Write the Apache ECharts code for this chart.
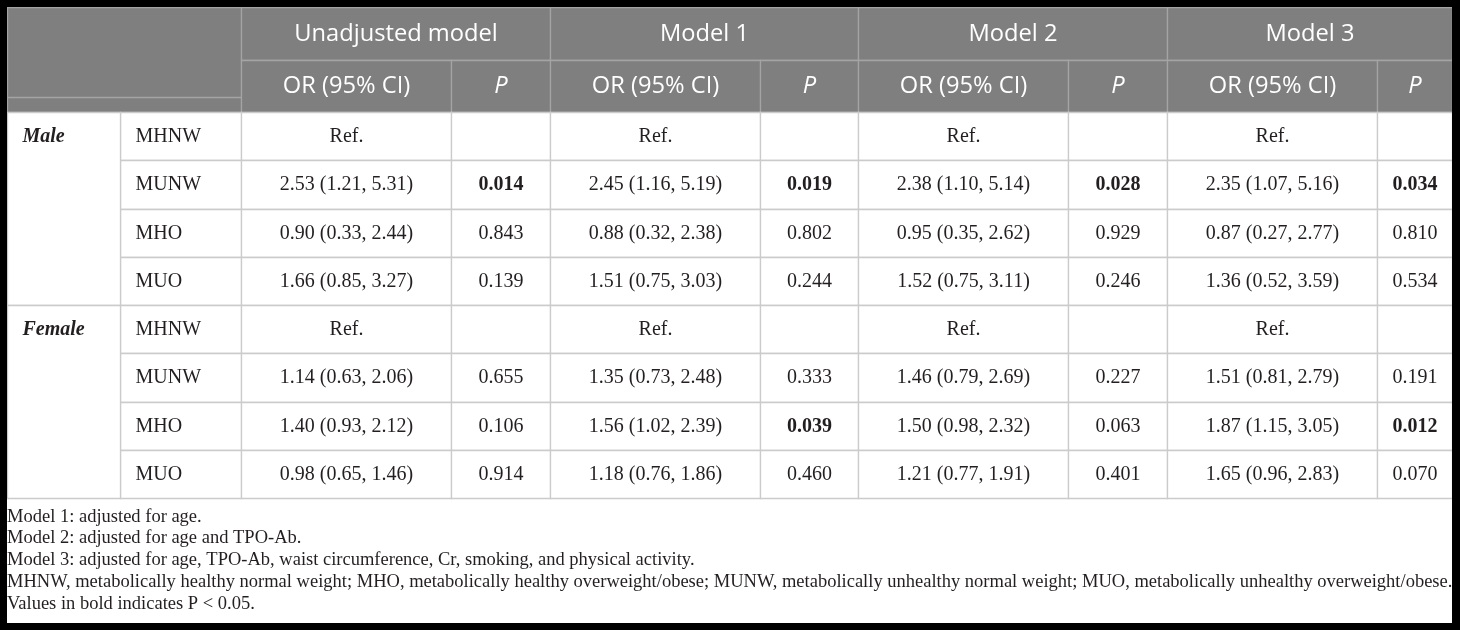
<!DOCTYPE html>
<html><head><meta charset="utf-8">
<script src="https://cdn.jsdelivr.net/npm/echarts@6/dist/echarts.min.js"></script>
<style>
html,body{margin:0;padding:0;background:#000;width:1460px;height:630px;overflow:hidden;}
#frame{position:absolute;left:7px;top:7px;width:1445px;height:616px;background:#fff;}
#chart{width:1445px;height:616px;}
</style></head><body>
<div id="frame"><div id="chart"></div></div>
<script>
// ---------------- data ----------------
const models = ['Unadjusted model', 'Model 1', 'Model 2', 'Model 3'];
const statHeaders = ['OR (95% CI)', 'P'];
const groups = ['Male', 'Female'];
const subgroups = ['MHNW', 'MUNW', 'MHO', 'MUO'];
const refLabel = 'Ref.';
const sigLevel = 0.05;
// rows: MUNW, MHO, MUO ; columns: Unadjusted, Model 1, Model 2, Model 3
const maleOR    = [[2.53, 2.45, 2.38, 2.35], [0.90, 0.88, 0.95, 0.87], [1.66, 1.51, 1.52, 1.36]];
const maleLower = [[1.21, 1.16, 1.10, 1.07], [0.33, 0.32, 0.35, 0.27], [0.85, 0.75, 0.75, 0.52]];
const maleUpper = [[5.31, 5.19, 5.14, 5.16], [2.44, 2.38, 2.62, 2.77], [3.27, 3.03, 3.11, 3.59]];
const maleP     = [[0.014, 0.019, 0.028, 0.034], [0.843, 0.802, 0.929, 0.810], [0.139, 0.244, 0.246, 0.534]];
const femaleOR    = [[1.14, 1.35, 1.46, 1.51], [1.40, 1.56, 1.50, 1.87], [0.98, 1.18, 1.21, 1.65]];
const femaleLower = [[0.63, 0.73, 0.79, 0.81], [0.93, 1.02, 0.98, 1.15], [0.65, 0.76, 0.77, 0.96]];
const femaleUpper = [[2.06, 2.48, 2.69, 2.79], [2.12, 2.39, 2.32, 3.05], [1.46, 1.86, 1.91, 2.83]];
const femaleP     = [[0.655, 0.333, 0.227, 0.191], [0.106, 0.039, 0.063, 0.012], [0.914, 0.460, 0.401, 0.070]];
const footnotes = [
  'Model 1: adjusted for age.',
  'Model 2: adjusted for age and TPO-Ab.',
  'Model 3: adjusted for age, TPO-Ab, waist circumference, Cr, smoking, and physical activity.',
  'MHNW, metabolically healthy normal weight; MHO, metabolically healthy overweight/obese; MUNW, metabolically unhealthy normal weight; MUO, metabolically unhealthy overweight/obese.',
  'Values in bold indicates P < 0.05.'
];

// ---------------- layout (table geometry in axis units) ----------------
const colWidths = [113, 121, 210, 99, 210, 98, 210, 99, 210, 75];
const rowHeights = [53, 52, 48.25, 48.25, 48.25, 48.25, 48.25, 48.25, 48.25, 48.25];
const colEdges = [0]; colWidths.forEach(w => colEdges.push(colEdges[colEdges.length - 1] + w));
const rowEdges = [0]; rowHeights.forEach(h => rowEdges.push(rowEdges[rowEdges.length - 1] + h));
const totalW = colEdges[colEdges.length - 1];
const totalH = rowEdges[rowEdges.length - 1];

// ---------------- build cells ----------------
const groupOR = [maleOR, femaleOR], groupLo = [maleLower, femaleLower], groupHi = [maleUpper, femaleUpper], groupP = [maleP, femaleP];
const cells = [];
cells.push({c: 0, r: 0, cs: 2, rs: 2, text: '', type: 'corner'});
models.forEach((m, i) => cells.push({c: 2 + 2 * i, r: 0, cs: 2, rs: 1, text: m, type: 'hdr'}));
models.forEach((m, i) => statHeaders.forEach((s, j) =>
  cells.push({c: 2 + 2 * i + j, r: 1, cs: 1, rs: 1, text: s, type: 'hdr', italic: j === 1})));
groups.forEach((g, gi) => {
  const r0 = 2 + gi * subgroups.length;
  subgroups.forEach((s, si) => {
    const r = r0 + si;
    cells.push({c: 1, r: r, cs: 1, rs: 1, text: s, type: 'sub'});
    models.forEach((m, mi) => {
      if (si === 0) {
        cells.push({c: 2 + 2 * mi, r: r, cs: 1, rs: 1, text: refLabel, type: 'val'});
        cells.push({c: 3 + 2 * mi, r: r, cs: 1, rs: 1, text: '', type: 'val'});
      } else {
        const o = groupOR[gi][si - 1][mi], lo = groupLo[gi][si - 1][mi], hi = groupHi[gi][si - 1][mi], p = groupP[gi][si - 1][mi];
        cells.push({c: 2 + 2 * mi, r: r, cs: 1, rs: 1, text: o.toFixed(2) + ' (' + lo.toFixed(2) + ', ' + hi.toFixed(2) + ')', type: 'val'});
        cells.push({c: 3 + 2 * mi, r: r, cs: 1, rs: 1, text: p.toFixed(3), type: 'val', bold: p < sigLevel});
      }
    });
  });
  cells.push({c: 0, r: r0, cs: 1, rs: subgroups.length, text: g, type: 'group'});
});

const SERIF = "'Liberation Serif', 'Times New Roman', serif";
const SANS = "'Open Sans', 'Noto Sans', sans-serif";

function renderItem(params, api) {
  const d = cells[params.dataIndex];
  const p0 = api.coord([colEdges[d.c], rowEdges[d.r]]);
  const p1 = api.coord([colEdges[d.c + d.cs], rowEdges[d.r + d.rs]]);
  const x = Math.round(p0[0]) + 0.5, y = Math.round(p0[1]) + 0.5;
  const w = Math.round(p1[0]) - Math.round(p0[0]), h = Math.round(p1[1]) - Math.round(p0[1]);
  const isHdr = d.type === 'hdr' || d.type === 'corner';
  const children = [{
    type: 'rect', shape: {x: x, y: y, width: w, height: h},
    style: {fill: isHdr ? '#7f7f7f' : '#ffffff', stroke: isHdr ? '#a4a4a4' : '#cbcbcb', lineWidth: 1.3}
  }];
  if (d.type === 'corner') {
    const ly = Math.round(api.coord([0, rowEdges[2] - 15])[1]) + 0.5;
    children.push({type: 'line', shape: {x1: x, y1: ly, x2: x + w, y2: ly}, style: {stroke: '#a4a4a4', lineWidth: 1.3}});
  }
  if (d.text) {
    let font, fill = '#231f20', align = 'center', tx = x + w / 2;
    if (d.type === 'hdr') {
      font = (d.italic ? 'italic ' : '') + '23.7px ' + SANS; fill = '#ffffff';
    } else if (d.type === 'group') {
      font = 'italic bold 20px ' + SERIF; align = 'left'; tx = x + 15;
    } else if (d.type === 'sub') {
      font = '20px ' + SERIF; align = 'left'; tx = x + 15;
    } else {
      font = (d.bold ? 'bold ' : '') + '20px ' + SERIF;
    }
    const ty = d.type === 'group' ? y + rowHeights[d.r] / 2 : y + h / 2;
    children.push({type: 'text', style: {x: tx, y: ty, text: d.text, font: font, fill: fill, align: align, verticalAlign: 'middle'}});
  }
  return {type: 'group', children: children};
}

const chart = echarts.init(document.getElementById('chart'), null, {renderer: 'canvas'});
chart.setOption({
  animation: false,
  backgroundColor: '#ffffff',
  title: {
    text: footnotes.join('\n'), left: 0, top: 499, padding: 0,
    textStyle: {fontFamily: SERIF, fontSize: 18.5, fontWeight: 'normal', lineHeight: 21.75, color: '#231f20'}
  },
  grid: {left: 0, top: 0, width: totalW, height: totalH},
  xAxis: {type: 'value', min: 0, max: totalW, show: false},
  yAxis: {type: 'value', min: 0, max: totalH, inverse: true, show: false},
  series: [{
    type: 'custom', coordinateSystem: 'cartesian2d', clip: false,
    encode: {x: 0, y: 1},
    data: cells.map(d => [colEdges[d.c], rowEdges[d.r], d.cs, d.rs]),
    renderItem: renderItem
  }]
});
</script>
</body></html>
